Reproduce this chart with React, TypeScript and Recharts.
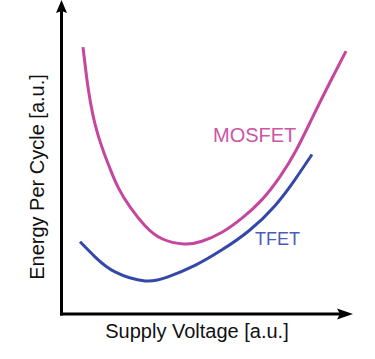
import React from "react";
import { LineChart, Line, XAxis, YAxis } from "recharts";

const mosfetVoltage = [7.56, 9.28, 11.0, 12.71, 14.78, 16.84, 19.59, 23.71, 28.87, 34.71, 42.27, 48.45, 55.33, 62.2, 69.07, 75.26, 80.76, 86.6, 92.44, 97.94];
const mosfetEnergy = [85.26, 72.44, 63.46, 57.21, 51.44, 46.47, 40.54, 34.2, 28.21, 24.04, 22.37, 23.24, 26.12, 30.61, 36.54, 43.91, 52.24, 63.14, 74.04, 83.97];
const tfetVoltage = [6.53, 11.68, 18.56, 28.87, 36.77, 46.05, 55.33, 64.6, 73.54, 80.41, 86.25];
const tfetEnergy = [23.08, 18.27, 13.46, 10.58, 11.86, 15.54, 20.51, 26.6, 34.62, 42.95, 50.96];

const mosfetData = mosfetVoltage.map((v, i) => ({ v, e: mosfetEnergy[i] }));
const tfetData = tfetVoltage.map((v, i) => ({ v, e: tfetEnergy[i] }));

const FONT = "'Liberation Sans', Arial, Helvetica, sans-serif";

export default function App() {
  return (
    <div style={{ position: "absolute", left: 0, top: 0, width: 375, height: 359, background: "#fff" }}>
      <LineChart width={375} height={359} margin={{ top: 1, right: 23, bottom: 45, left: 61 }}>
        <XAxis type="number" dataKey="v" domain={[0, 100]} hide allowDataOverflow />
        <YAxis type="number" dataKey="e" domain={[0, 100]} hide allowDataOverflow />
        <line x1={61.5} y1={8} x2={61.5} y2={315.5} stroke="#000" strokeWidth={3} />
        <line x1={60} y1={314} x2={342} y2={314} stroke="#000" strokeWidth={3} />
        <polygon points="61.5,0 56,13 61.5,11 67,13" fill="#000" />
        <polygon points="353,314 337,308.5 340,314 337,319.5" fill="#000" />
        <Line
          data={mosfetData}
          dataKey="e"
          type="natural"
          stroke="#c4469e"
          strokeWidth={3}
          dot={false}
          isAnimationActive={false}
        />
        <Line
          data={tfetData}
          dataKey="e"
          type="natural"
          stroke="#3448a8"
          strokeWidth={3}
          dot={false}
          isAnimationActive={false}
        />
        <text x={213} y={142} fontFamily={FONT} fontSize={20} fill="#cc55a6">MOSFET</text>
        <text x={255} y={245} fontFamily={FONT} fontSize={18} fill="#4a5cb6">TFET</text>
        <text x={197} y={338} textAnchor="middle" fontFamily={FONT} fontSize={20} fill="#111">Supply Voltage [a.u.]</text>
        <text
          x={37}
          y={177}
          textAnchor="middle"
          dominantBaseline="central"
          transform="rotate(-90 37 177)"
          fontFamily={FONT}
          fontSize={20}
          fill="#111"
        >
          Energy Per Cycle [a.u.]
        </text>
      </LineChart>
    </div>
  );
}
